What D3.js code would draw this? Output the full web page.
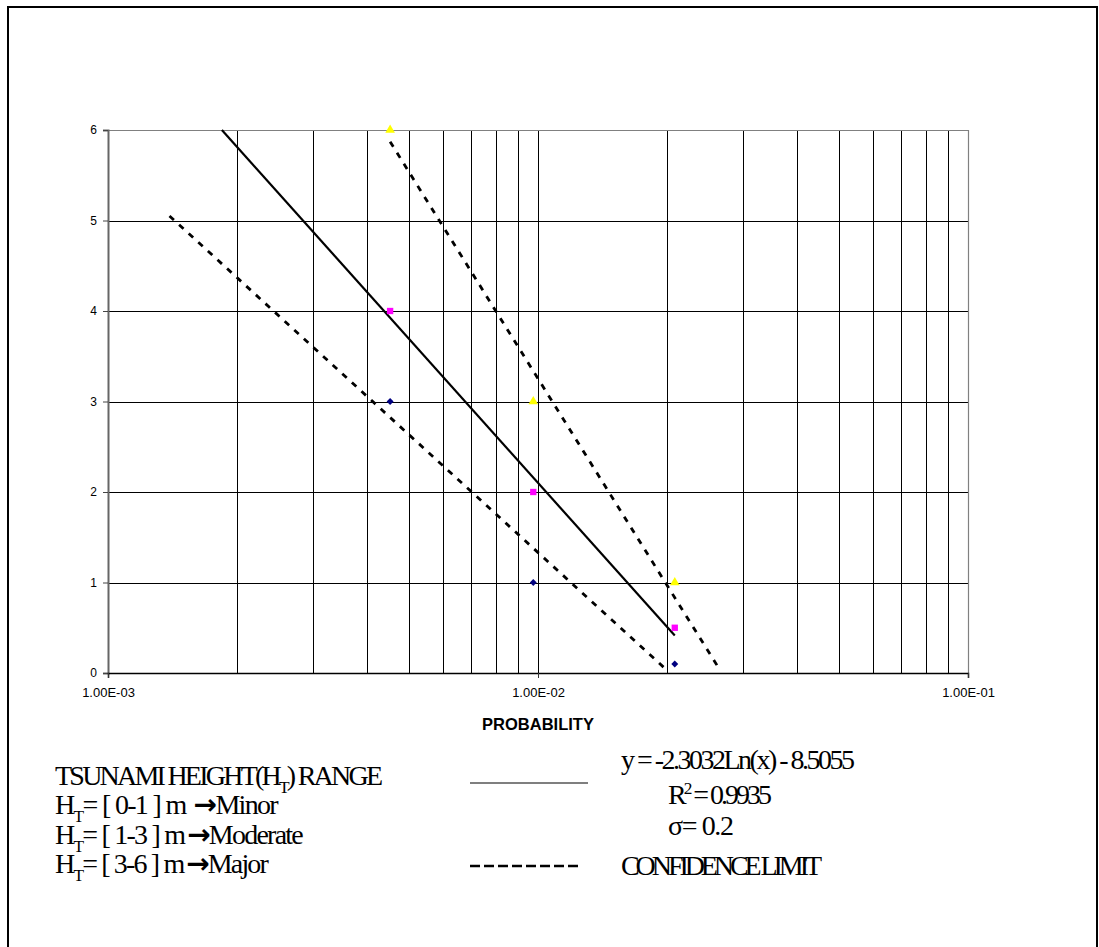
<!DOCTYPE html>
<html>
<head>
<meta charset="utf-8">
<script src="https://cdn.jsdelivr.net/npm/d3@7"></script>
<style>
  html, body { margin: 0; padding: 0; background: #fff; }
  svg { display: block; }
</style>
</head>
<body>
<svg id="chart" width="1099" height="947"></svg>
<script>
// Observed exceedance probabilities (one column of markers each)
const probability = [4.53e-3, 9.75e-3, 2.08e-2];
// Tsunami height at each probability: lower bound, mid value, upper bound (m)
const lowerHeight = [3, 1, 0.1];
const midHeight = [4, 2, 0.5];
const upperHeight = [6, 3, 1];

// Logarithmic fit  y = a·ln(x) + b
const fitSlope = -2.3032;
const fitIntercept = -8.5055;
const fitEndProbability = 2.08e-2;

// Confidence limits, end points as [probability, height]
const lowerLimit = [[1.39e-3, 5.05], [1.974e-2, 0.05]];
const upperLimit = [[4.53e-3, 5.87], [2.62e-2, 0.07]];

// Axes
const xDomain = [1e-3, 1e-1];
const xTickValues = [1e-3, 1e-2, 1e-1];
const xTickLabels = ["1.00E-03", "1.00E-02", "1.00E-01"];
const yTickValues = [0, 1, 2, 3, 4, 5, 6];
const xTitle = "PROBABILITY";

// Legend text, split into runs: [text, "sub" | "sup" | "arrow" | undefined]
const rangeLegend = [
  [["TSUNAMI HEIGHT(H"], ["T", "sub"], [") RANGE"]],
  [["H"], ["T", "sub"], ["= [ 0-1 ] m "], ["\u2192", "arrow"], ["Minor"]],
  [["H"], ["T", "sub"], ["= [ 1-3 ] m"], ["\u2192", "arrow"], ["Moderate"]],
  [["H"], ["T", "sub"], ["= [ 3-6 ] m"], ["\u2192", "arrow"], ["Major"]]
];
const fitLegend = [
  [["y = -2.3032Ln(x) - 8.5055"]],
  [["R"], ["2", "sup"], [" = 0.9935"]],
  [["\u03c3= 0.2"]],
  [["CONFIDENCE LIMIT"]]
];

const svg = d3.select("#chart");

// outer frame
svg.append("rect")
  .attr("x", 8).attr("y", 7)
  .attr("width", 1089).attr("height", 960)
  .attr("fill", "none").attr("stroke", "#000").attr("stroke-width", 2);

const plot = { left: 108, right: 968, top: 130, bottom: 673 };

const x = d3.scaleLog().domain(xDomain).range([plot.left, plot.right]);
const y = d3.scaleLinear().domain([0, 6]).range([plot.bottom, plot.top]);

const g = svg.append("g");

// vertical grid at every log tick
g.append("g")
  .selectAll("line")
  .data(x.ticks().filter(v => v > xDomain[0] * 1.0001 && v < xDomain[1] * 0.9999))
  .join("line")
  .attr("x1", d => Math.round(x(d)) + 0.5).attr("x2", d => Math.round(x(d)) + 0.5)
  .attr("y1", plot.top).attr("y2", plot.bottom)
  .attr("stroke", "#000").attr("stroke-width", 1);

// horizontal grid
g.append("g")
  .selectAll("line")
  .data(yTickValues.filter(v => v > 0 && v < 6))
  .join("line")
  .attr("x1", plot.left).attr("x2", plot.right)
  .attr("y1", d => Math.round(y(d)) + 0.5).attr("y2", d => Math.round(y(d)) + 0.5)
  .attr("stroke", "#000").attr("stroke-width", 1);

// plot area border (top / right)
g.append("path")
  .attr("d", `M${plot.left},${plot.top + 0.5}H${plot.right + 0.5}V${plot.bottom}`)
  .attr("fill", "none").attr("stroke", "#808080").attr("stroke-width", 1.2);

// y axis
const yAxis = g.append("g")
  .attr("transform", `translate(${plot.left},0)`)
  .call(d3.axisLeft(y).tickValues(yTickValues).tickSize(5).tickPadding(6).tickFormat(d3.format("d")));
yAxis.select(".domain").attr("stroke", "#666").attr("stroke-width", 2);
yAxis.selectAll(".tick line").attr("stroke", "#444");
yAxis.selectAll("text")
  .attr("font-family", "'Liberation Sans', Arial, sans-serif")
  .attr("font-size", 12).attr("fill", "#000");

// x axis
const xAxis = g.append("g")
  .attr("transform", `translate(0,${plot.bottom})`)
  .call(d3.axisBottom(x).tickValues(xTickValues).tickSize(5).tickPadding(10)
    .tickFormat((d, i) => xTickLabels[i]));
xAxis.select(".domain").attr("stroke", "#000").attr("stroke-width", 1.5);
xAxis.selectAll(".tick line").attr("stroke", "#333");
xAxis.selectAll("text")
  .attr("font-family", "'Liberation Sans', Arial, sans-serif")
  .attr("font-size", 13).attr("fill", "#000");

svg.append("text")
  .attr("x", x(1e-2)).attr("y", 730)
  .attr("text-anchor", "middle")
  .attr("font-family", "'Liberation Sans', Arial, sans-serif")
  .attr("font-weight", "bold").attr("font-size", 16.5)
  .text(xTitle);

// regression line
const line = d3.line().x(d => x(d[0])).y(d => y(d[1]));
const fitStart = Math.exp((6 - fitIntercept) / fitSlope);
const fitPts = [fitStart, fitEndProbability].map(p => [p, fitSlope * Math.log(p) + fitIntercept]);
g.append("path")
  .attr("d", line(fitPts))
  .attr("fill", "none").attr("stroke", "#000").attr("stroke-width", 2.2);

// confidence limits
[lowerLimit, upperLimit].forEach(pts => {
  g.append("path")
    .attr("d", line(pts))
    .attr("fill", "none").attr("stroke", "#000")
    .attr("stroke-width", 2.8).attr("stroke-dasharray", "6,7");
});

// markers
const markerSets = [
  { values: lowerHeight, type: d3.symbolSquare, size: 24, rotate: 45, color: "#000080" },
  { values: midHeight, type: d3.symbolSquare, size: 40, rotate: 0, color: "#FF00FF" },
  { values: upperHeight, type: d3.symbolTriangle, size: 40, rotate: 0, color: "#FFFF00" }
];
markerSets.forEach(s => {
  g.append("g").selectAll("path")
    .data(s.values.map((v, i) => [probability[i], v]))
    .join("path")
    .attr("d", d3.symbol().type(s.type).size(s.size))
    .attr("transform", d => `translate(${x(d[0])},${y(d[1])}) rotate(${s.rotate})`)
    .attr("fill", s.color);
});

// one legend line of mixed runs (subscript, superscript, arrow), tightened to a given width
function richLine(parent, runs, px, py, size, width) {
  const t = parent.append("text")
    .attr("x", px).attr("y", py)
    .attr("font-family", "'Liberation Serif', 'Times New Roman', serif")
    .attr("font-size", size).attr("fill", "#000");
  let shift = 0;
  let chars = 0;
  runs.forEach(([txt, kind]) => {
    const sp = t.append("tspan").text(txt).attr("class", kind || "plain");
    chars += txt.length;
    let target = 0;
    if (kind === "sub") { sp.attr("font-size", size * 0.62); target = size * 0.3; }
    else if (kind === "sup") { sp.attr("font-size", size * 0.62); target = -size * 0.36; }
    else if (kind === "arrow") sp.attr("font-family", "'DejaVu Sans', sans-serif").attr("font-weight", "bold");
    if (target !== shift) { sp.attr("dy", target - shift); shift = target; }
  });
  const natural = t.node().getComputedTextLength();
  const spacing = (width - natural) / Math.max(1, chars - 1);
  t.selectAll("tspan").attr("letter-spacing", spacing);
  // keep the arrow clear of the preceding letter
  t.selectAll("tspan.arrow").attr("dx", Math.max(0, -spacing) + 1);
  return t;
}

const lg = svg.append("g");
const rangeY = [785, 814, 844, 873];
const rangeW = [328, 221, 246, 211];
rangeLegend.forEach((runs, i) => richLine(lg, runs, 55, rangeY[i], 28, rangeW[i]));

// legend line samples
lg.append("line").attr("x1", 470).attr("x2", 588).attr("y1", 783).attr("y2", 783)
  .attr("stroke", "#000").attr("stroke-width", 1.2);
lg.append("line").attr("x1", 470).attr("x2", 578).attr("y1", 866).attr("y2", 866)
  .attr("stroke", "#000").attr("stroke-width", 2.6).attr("stroke-dasharray", "10,4");

const fitX = [621, 668, 668, 621];
const fitY = [769, 804, 835, 875];
const fitW = [234, 104, 66, 201];
fitLegend.forEach((runs, i) => richLine(lg, runs, fitX[i], fitY[i], 28, fitW[i]));
</script>
</body>
</html>
